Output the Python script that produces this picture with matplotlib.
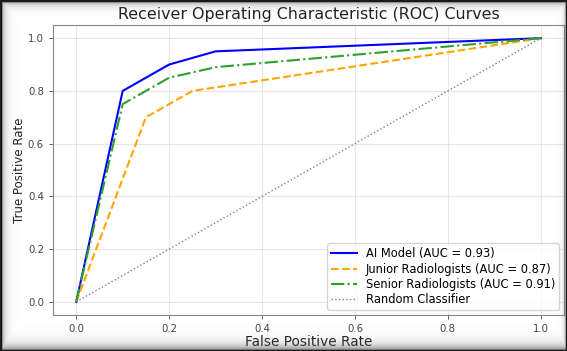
import numpy as np
import matplotlib
matplotlib.use("Agg")
import matplotlib.pyplot as plt

# ROC points
fpr_ai = [0.0, 0.1, 0.2, 0.3, 1.0]
tpr_ai = [0.0, 0.8, 0.9, 0.95, 1.0]

fpr_junior = [0.0, 0.15, 0.25, 1.0]
tpr_junior = [0.0, 0.7, 0.8, 1.0]

fpr_senior = [0.0, 0.1, 0.2, 0.3, 1.0]
tpr_senior = [0.0, 0.75, 0.85, 0.89, 1.0]

auc_ai = 0.93
auc_junior = 0.87
auc_senior = 0.91

random_line = [0.0, 1.0]
xticks = [0.0, 0.2, 0.4, 0.6, 0.8, 1.0]
yticks = [0.0, 0.2, 0.4, 0.6, 0.8, 1.0]

fig = plt.figure(figsize=(5.67, 3.51), dpi=100)
ax = fig.add_axes([0.0935, 0.1026, 0.9012, 0.8262])

ax.plot(fpr_ai, tpr_ai, color="blue", linewidth=1.5,
        label=f"AI Model (AUC = {auc_ai:.2f})")
ax.plot(fpr_junior, tpr_junior, color="orange", linestyle="--", linewidth=1.5,
        label=f"Junior Radiologists (AUC = {auc_junior:.2f})")
ax.plot(fpr_senior, tpr_senior, color="tab:green", linestyle="-.", linewidth=1.5,
        label=f"Senior Radiologists (AUC = {auc_senior:.2f})")
ax.plot(random_line, random_line, color="gray", linestyle=":", linewidth=1.0,
        label="Random Classifier")

ax.set_xticks(xticks)
ax.set_yticks(yticks)
ax.tick_params(labelsize=7.3, colors="#444444", length=3, width=0.6)
ax.grid(True, alpha=0.3)
for s in ax.spines.values():
    s.set_color("#888888")

ax.set_title("Receiver Operating Characteristic (ROC) Curves", fontsize=11.4, color="#222222", pad=4)
ax.set_xlabel("False Positive Rate", fontsize=9.8, color="#222222", labelpad=1)
ax.set_ylabel("True Positive Rate", fontsize=8.5, color="#222222", labelpad=1.5)
ax.legend(loc="lower right", fontsize=8.3, framealpha=0.8, labelspacing=0.2,
          borderpad=0.35, handlelength=2.2, borderaxespad=0.4)

# screenshot-style frame with inner shadow
h, w = 351, 567
yy, xx = np.mgrid[0:h, 0:w]
a = np.maximum.reduce([
    0.8 * np.exp(-xx / 3.5),
    0.8 * np.exp(-yy / 3.5),
    0.8 * np.exp(-(h - 1 - yy) / 5.0),
    0.6 * np.exp(-(w - 1 - xx) / 2.0),
])
img = np.zeros((h, w, 4))
img[..., :3] = 0.35
img[..., 3] = a
over = fig.add_axes([0, 0, 1, 1], zorder=10)
over.imshow(img, aspect="auto", interpolation="bilinear")
over.axis("off")
fig.patches.append(plt.Rectangle((0, 0), 1, 1, transform=fig.transFigure,
                                 fill=False, edgecolor="#1a1a1a", linewidth=2.5, zorder=11))

fig.savefig("out.png", dpi=100)
plt.close(fig)
